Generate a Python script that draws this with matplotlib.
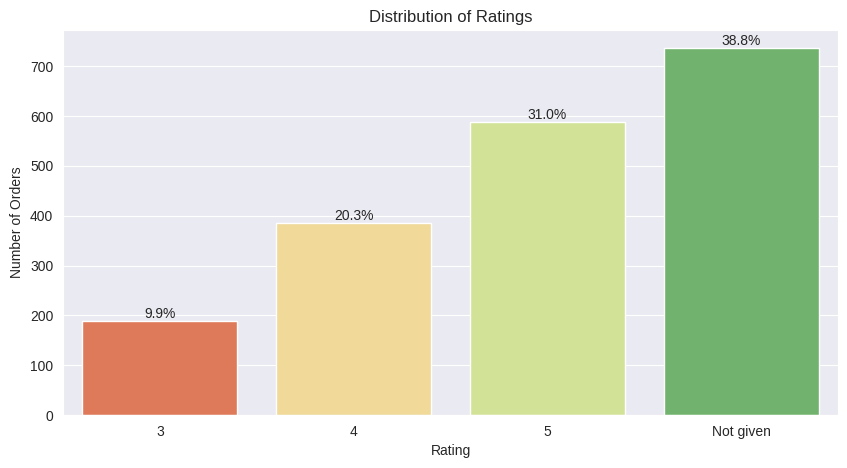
import matplotlib
matplotlib.use("Agg")
import matplotlib.pyplot as plt
import seaborn as sns
import pandas as pd

categories = ["3", "4", "5", "Not given"]
counts = [188, 386, 588, 736]

sns.set_style("darkgrid")
plt.rcParams['font.family'] = ['Liberation Sans', 'DejaVu Sans']
plt.rcParams['font.size'] = 10
plt.rcParams['xtick.labelsize'] = 10
plt.rcParams['ytick.labelsize'] = 10
plt.rcParams['axes.labelsize'] = 10
plt.rcParams['axes.titlesize'] = 12

fig = plt.figure(figsize=(8.47, 4.68), dpi=100)
ax = fig.add_axes([0.0744, 0.113, 0.915, 0.823])

df = pd.DataFrame({"Rating": categories, "Number of Orders": counts})
sns.barplot(data=df, x="Rating", y="Number of Orders", hue="Rating",
            palette="RdYlGn", legend=False, ax=ax, order=categories)

total = sum(counts)
for i, c in enumerate(counts):
    ax.annotate(f"{100 * c / total:.1f}%", (i, c), ha="center", va="bottom")

ax.set_title("Distribution of Ratings")
ax.set_xlabel("Rating")
ax.set_ylabel("Number of Orders")

fig.savefig("out.png", dpi=100)
